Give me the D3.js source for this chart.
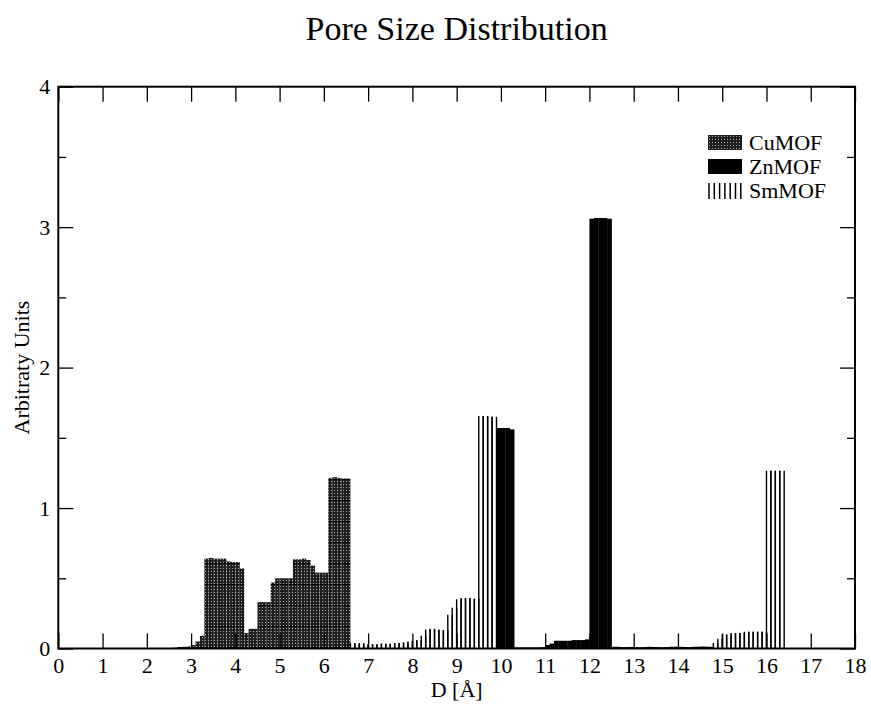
<!DOCTYPE html>
<html>
<head>
<meta charset="utf-8">
<script src="https://cdn.jsdelivr.net/npm/d3@7"></script>
<style>
body { margin: 0; background: #fff; }
svg { display: block; }
text { font-family: "Liberation Serif", "Times New Roman", serif; fill: #000; }
</style>
</head>
<body>
<svg id="chart" width="871" height="709"></svg>
<script>
// histogram bins: [left edge in Å, height]
const binWidth = 0.1;

const cuBins = [
    [2.5, 0.004], [2.6, 0.006], [2.7, 0.010], [2.8, 0.012], [2.9, 0.015],
    [3.0, 0.025], [3.1, 0.050], [3.2, 0.090], [3.3, 0.640], [3.4, 0.645],
    [3.5, 0.640], [3.6, 0.640], [3.7, 0.640], [3.8, 0.620], [3.9, 0.615],
    [4.0, 0.615], [4.1, 0.570], [4.2, 0.110], [4.3, 0.140], [4.4, 0.140],
    [4.5, 0.330], [4.6, 0.330], [4.7, 0.330], [4.8, 0.470], [4.9, 0.500],
    [5.0, 0.500], [5.1, 0.500], [5.2, 0.500], [5.3, 0.635], [5.4, 0.635],
    [5.5, 0.640], [5.6, 0.630], [5.7, 0.590], [5.8, 0.540], [5.9, 0.540],
    [6.0, 0.540], [6.1, 1.215], [6.2, 1.220], [6.3, 1.215], [6.4, 1.210],
    [6.5, 1.210]
];

const znBins = [
    [9.9, 1.570], [10.0, 1.570], [10.1, 1.570], [10.2, 1.560],
    [10.3, 0.008], [10.4, 0.008], [10.5, 0.008], [10.6, 0.008], [10.7, 0.008],
    [10.8, 0.008], [10.9, 0.010], [11.0, 0.025], [11.1, 0.035], [11.2, 0.055],
    [11.3, 0.055], [11.4, 0.055], [11.5, 0.055], [11.6, 0.060], [11.7, 0.060],
    [11.8, 0.060], [11.9, 0.065], [12.0, 3.060], [12.1, 3.065], [12.2, 3.065],
    [12.3, 3.065], [12.4, 3.060], [12.5, 0.012], [12.6, 0.012], [12.7, 0.010],
    [12.8, 0.010], [12.9, 0.011], [13.0, 0.010], [13.1, 0.009], [13.2, 0.010],
    [13.3, 0.012], [13.4, 0.011], [13.5, 0.010], [13.6, 0.009], [13.7, 0.010],
    [13.8, 0.012], [13.9, 0.013], [14.0, 0.012], [14.1, 0.011], [14.2, 0.010],
    [14.3, 0.012], [14.4, 0.013], [14.5, 0.014], [14.6, 0.013], [14.7, 0.012]
];

const smBins = [
    [6.6, 0.040], [6.7, 0.030], [6.8, 0.040], [6.9, 0.030], [7.0, 0.030],
    [7.1, 0.030], [7.2, 0.030], [7.3, 0.035], [7.4, 0.030], [7.5, 0.035],
    [7.6, 0.040], [7.7, 0.040], [7.8, 0.045], [7.9, 0.050], [8.0, 0.055],
    [8.1, 0.060], [8.2, 0.090], [8.3, 0.135], [8.4, 0.140], [8.5, 0.135],
    [8.6, 0.130], [8.7, 0.130], [8.8, 0.240], [8.9, 0.290], [9.0, 0.350],
    [9.1, 0.360], [9.2, 0.360], [9.3, 0.355], [9.4, 0.355], [9.5, 1.655],
    [9.6, 1.655], [9.7, 1.650], [9.8, 1.650],
    [14.8, 0.040], [14.9, 0.070], [15.0, 0.100], [15.1, 0.100], [15.2, 0.110],
    [15.3, 0.110], [15.4, 0.110], [15.5, 0.120], [15.6, 0.120], [15.7, 0.120],
    [15.8, 0.120], [15.9, 0.120], [16.0, 1.265], [16.1, 1.265], [16.2, 1.265],
    [16.3, 1.265]
];

const seriesNames = ["CuMOF", "ZnMOF", "SmMOF"];
const xTickValues = [0, 1, 2, 3, 4, 5, 6, 7, 8, 9, 10, 11, 12, 13, 14, 15, 16, 17, 18];
const yTickValues = [0, 1, 2, 3, 4];
const yMinorValues = [0.5, 1.5, 2.5, 3.5];

let svg = d3.select("#chart");

let x = d3.scaleLinear().domain([0, 18]).range([58.3, 855]);
let y = d3.scaleLinear().domain([0, 4]).range([648.5, 86.7]);

// fills: checker dots with faint horizontal rules for CuMOF
let defs = svg.append("defs");
let cuPat = defs.append("pattern")
    .attr("id", "cuFill")
    .attr("patternUnits", "userSpaceOnUse")
    .attr("width", 3).attr("height", 21)
    .attr("y", 18);
cuPat.append("rect").attr("width", 3).attr("height", 21).attr("fill", "#1e1e1e");
for (let k = 0; k < 7; k++) {
    cuPat.append("rect").attr("x", 1).attr("y", k * 3 + 1).attr("width", 1).attr("height", 1).attr("fill", "#a8a8a8");
}
cuPat.append("rect").attr("x", 0).attr("y", 20).attr("width", 3).attr("height", 1).attr("fill", "#000");

// bars
svg.append("g").selectAll("rect")
    .data(cuBins)
    .join("rect")
    .attr("x", d => x(d[0]))
    .attr("y", d => y(d[1]))
    .attr("width", d => x(d[0] + binWidth) - x(d[0]))
    .attr("height", d => y(0) - y(d[1]))
    .attr("fill", "url(#cuFill)");

svg.append("g").selectAll("rect")
    .data(znBins)
    .join("rect")
    .attr("x", d => x(d[0]))
    .attr("y", d => y(d[1]))
    .attr("width", d => x(d[0] + binWidth) - x(d[0]) + 0.3)
    .attr("height", d => y(0) - y(d[1]))
    .attr("fill", "#000");

// SmMOF: only the vertical edges of each bin
svg.append("g").selectAll("path")
    .data(smBins)
    .join("path")
    .attr("d", d => {
        let x0 = x(d[0]), x1 = x(d[0] + binWidth);
        return `M${x0},${y(0)}V${y(d[1])}M${x1},${y(d[1])}V${y(0)}`;
    })
    .attr("fill", "none")
    .attr("stroke", "#000")
    .attr("stroke-width", 1.4);

// axes (ticks pointing inward)
function styleAxis(g) {
    g.select(".domain").remove();
    g.selectAll(".tick line").attr("stroke", "#000").attr("stroke-width", 1.3);
    g.selectAll(".tick text").style("font-size", "22px").style("font-family", '"Liberation Serif", serif');
}

svg.append("g")
    .attr("transform", `translate(0,${y(0)})`)
    .call(d3.axisBottom(x).tickValues(xTickValues).tickSize(-15).tickPadding(9).tickFormat(d3.format("d")))
    .call(styleAxis);

svg.append("g")
    .attr("transform", `translate(0,${y(4)})`)
    .call(d3.axisTop(x).tickValues(xTickValues).tickSize(-15).tickFormat(""))
    .call(styleAxis);

svg.append("g")
    .attr("transform", `translate(${x(0)},0)`)
    .call(d3.axisLeft(y).tickValues(yTickValues).tickSize(-15).tickPadding(8).tickFormat(d3.format("d")))
    .call(styleAxis);

svg.append("g")
    .attr("transform", `translate(${x(0)},0)`)
    .call(d3.axisLeft(y).tickValues(yMinorValues).tickSize(-8).tickFormat(""))
    .call(styleAxis);

svg.append("g")
    .attr("transform", `translate(${x(18)},0)`)
    .call(d3.axisRight(y).tickValues(yTickValues).tickSize(-15).tickFormat(""))
    .call(styleAxis);

svg.append("g")
    .attr("transform", `translate(${x(18)},0)`)
    .call(d3.axisRight(y).tickValues(yMinorValues).tickSize(-8).tickFormat(""))
    .call(styleAxis);

// frame
svg.append("rect")
    .attr("x", x(0)).attr("y", y(4))
    .attr("width", x(18) - x(0)).attr("height", y(0) - y(4))
    .attr("fill", "none").attr("stroke", "#000").attr("stroke-width", 2);

// titles
svg.append("text")
    .attr("x", (x(0) + x(18)) / 2).attr("y", 40)
    .attr("text-anchor", "middle")
    .style("font-size", "34px")
    .text("Pore Size Distribution");

svg.append("text")
    .attr("x", (x(0) + x(18)) / 2).attr("y", 697)
    .attr("text-anchor", "middle")
    .style("font-size", "22px")
    .text("D [Å]");

svg.append("text")
    .attr("transform", `translate(29,${(y(0) + y(4)) / 2}) rotate(-90)`)
    .attr("text-anchor", "middle")
    .style("font-size", "22px")
    .text("Arbitraty Units");

// legend
let legend = svg.append("g").attr("transform", "translate(708,135)");
let rowGap = 24;

legend.append("rect").attr("x", 0).attr("y", 0).attr("width", 34).attr("height", 15).attr("fill", "url(#cuFill)");
legend.append("rect").attr("x", 0).attr("y", rowGap).attr("width", 34).attr("height", 15).attr("fill", "#000");
legend.append("g").selectAll("line")
    .data([0, 1, 2, 3, 4, 5, 6])
    .join("line")
    .attr("x1", d => 1 + d * 5.3).attr("x2", d => 1 + d * 5.3)
    .attr("y1", rowGap * 2).attr("y2", rowGap * 2 + 16)
    .attr("stroke", "#000").attr("stroke-width", 1.5);

legend.selectAll("text.name")
    .data(seriesNames)
    .join("text")
    .attr("class", "name")
    .attr("x", 41)
    .attr("y", (d, i) => i * rowGap + 15)
    .style("font-size", "22px")
    .text(d => d);
</script>
</body>
</html>
